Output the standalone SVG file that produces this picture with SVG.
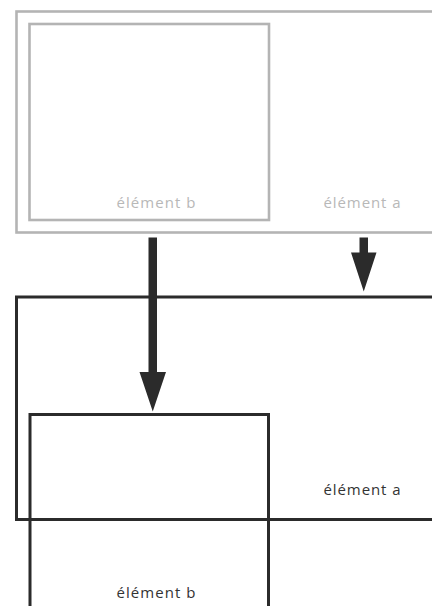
<svg xmlns="http://www.w3.org/2000/svg" width="432" height="606" viewBox="0 0 432 606">
<style>
.gray{fill:none;stroke:#b4b4b4;stroke-width:2.6}
.dark{fill:none;stroke:#2b2b2b;stroke-width:3}
.lblg{font-family:"Open Sans","DejaVu Sans",sans-serif;font-size:15px;fill:#b8b8b8;text-anchor:middle}
.lbld{font-family:"Open Sans","DejaVu Sans",sans-serif;font-size:15px;fill:#333333;text-anchor:middle}
.arrow{fill:#2b2b2b}
</style>
<rect width="432" height="606" fill="#ffffff"/>
<g id="before-a">
<rect class="gray" x="16.5" y="11.5" width="430" height="221"/>
<text class="lblg" x="362" y="208" textLength="77" lengthAdjust="spacing">élément a</text>
</g>
<g id="before-b">
<rect class="gray" x="29.5" y="24" width="239.5" height="196"/>
<text class="lblg" x="156" y="208" textLength="79" lengthAdjust="spacing">élément b</text>
</g>
<g id="after-a">
<rect class="dark" x="16.5" y="297" width="430" height="222.5"/>
<text class="lbld" x="362" y="495" textLength="77" lengthAdjust="spacing">élément a</text>
</g>
<g id="after-b">
<rect class="dark" x="30" y="414.5" width="238.5" height="210"/>
<text class="lbld" x="156" y="598" textLength="79" lengthAdjust="spacing">élément b</text>
</g>
<g id="connectors">
<polygon class="arrow" points="148.5,237.5 157,237.5 157,372 166,372 152.75,411.5 139.5,372 148.5,372"/>
<polygon class="arrow" points="359.5,237.5 368,237.5 368,252.5 376.5,252.5 363.75,291.5 351,252.5 359.5,252.5"/>
</g>
</svg>
